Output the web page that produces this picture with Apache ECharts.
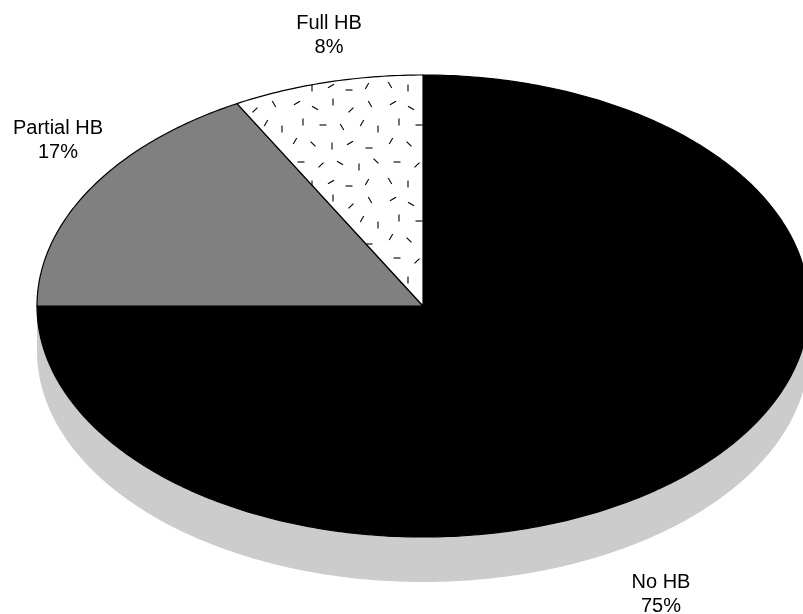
<!DOCTYPE html>
<html>
<head>
<meta charset="utf-8">
<script src="https://cdn.jsdelivr.net/npm/echarts@6/dist/echarts.min.js"></script>
<style>
  html, body { margin: 0; padding: 0; background: #ffffff; }
  #chart { width: 803px; height: 614px; }
</style>
</head>
<body>
<div id="chart"></div>
<script>
// ---- data ----
const categories = ['No HB', 'Partial HB', 'Full HB'];
const values = [75, 17, 8];

// ---- layout / style ----
const CX = 423, CY = 306, RX = 386, RY = 231, DEPTH = 45;
const SLICE_FILL = ['#000000', '#808080', 'pattern'];
const SIDE_FILL = '#cccccc';
const LABEL_AT = [[661, 594], [58, 140], [329, 35]];

function makeDashPattern() {
  const S = 96;
  const c = document.createElement('canvas');
  c.width = S; c.height = S;
  const g = c.getContext('2d');
  g.fillStyle = '#ffffff';
  g.fillRect(0, 0, S, S);
  g.strokeStyle = '#000000';
  g.lineWidth = 1.1;
  const dashes = [
    [9, 7, 150], [27, 12, 30], [45, 6, 90], [63, 14, 135], [82, 8, 60],
    [15, 26, 90], [35, 29, 0], [54, 31, 60], [74, 27, 120], [90, 33, 90],
    [7, 45, 120], [25, 48, 45], [44, 50, 90], [62, 47, 150], [81, 52, 0],
    [13, 66, 0], [33, 69, 135], [52, 67, 30], [71, 71, 90], [88, 65, 45],
    [6, 85, 60], [24, 88, 90], [43, 86, 150], [61, 90, 0], [79, 86, 120]
  ];
  dashes.forEach(function (d) {
    const a = d[2] * Math.PI / 180, h = 3.5;
    g.beginPath();
    g.moveTo(d[0] - h * Math.cos(a), d[1] - h * Math.sin(a));
    g.lineTo(d[0] + h * Math.cos(a), d[1] + h * Math.sin(a));
    g.stroke();
  });
  return c;
}
const dashPattern = { image: makeDashPattern(), repeat: 'repeat' };

const total = values.reduce(function (a, b) { return a + b; }, 0);
const starts = [];
(function () { let acc = 0; values.forEach(function (v) { starts.push(acc); acc += v; }); })();

function pt(t, dy) { return [CX + RX * Math.sin(t), CY + dy - RY * Math.cos(t)]; }
function arcPts(t0, t1, dy) {
  const n = Math.max(2, Math.ceil(Math.abs(t1 - t0) / (Math.PI / 240)));
  const out = [];
  for (let i = 0; i <= n; i++) out.push(pt(t0 + (t1 - t0) * i / n, dy));
  return out;
}
function sliceAngles(i) {
  const t0 = starts[i] / total * 2 * Math.PI;
  const t1 = (starts[i] + values[i]) / total * 2 * Math.PI;
  return [t0, t1];
}

const seriesData = values.map(function (v, i) { return { name: categories[i], value: [i, v] }; });

const chart = echarts.init(document.getElementById('chart'), null, { renderer: 'canvas' });
chart.setOption({
  animation: false,
  backgroundColor: '#ffffff',
  series: [
    {
      type: 'custom',
      coordinateSystem: 'none',
      silent: true,
      z: 1,
      data: seriesData,
      renderItem: function (params, api) {
        const i = params.dataIndex;
        const ang = sliceAngles(i);
        const a = Math.max(ang[0], Math.PI / 2), b = Math.min(ang[1], 3 * Math.PI / 2);
        if (!(b > a)) return { type: 'group', children: [] };
        const pts = arcPts(a, b, 0).concat(arcPts(b, a, DEPTH));
        return { type: 'polygon', shape: { points: pts }, style: { fill: SIDE_FILL, stroke: null } };
      }
    },
    {
      type: 'custom',
      coordinateSystem: 'none',
      silent: true,
      z: 2,
      data: seriesData,
      renderItem: function (params, api) {
        const i = params.dataIndex;
        const ang = sliceAngles(i);
        const pts = [[CX, CY]].concat(arcPts(ang[0], ang[1], 0));
        const fill = SLICE_FILL[i] === 'pattern' ? dashPattern : SLICE_FILL[i];
        const pct = Math.round(values[i] / total * 100) + '%';
        return {
          type: 'group',
          children: [
            { type: 'polygon', shape: { points: pts },
              style: { fill: fill, stroke: '#000000', lineWidth: 1.2, lineJoin: 'miter' } },
            { type: 'text', z2: 10,
              style: { text: categories[i] + '\n' + pct, x: LABEL_AT[i][0], y: LABEL_AT[i][1],
                       align: 'center', verticalAlign: 'middle', fontSize: 20, lineHeight: 24,
                       fontFamily: '"Liberation Sans", Arial, sans-serif', fill: '#000000' } }
          ]
        };
      }
    }
  ]
});
</script>
</body>
</html>
